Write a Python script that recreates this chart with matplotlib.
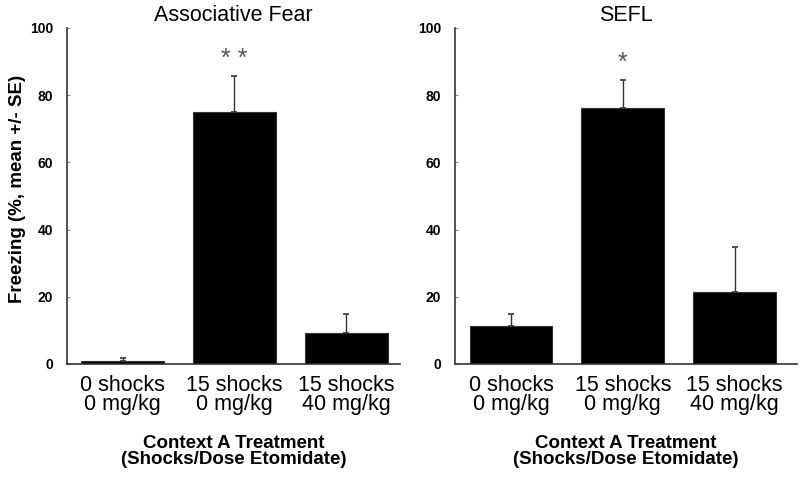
import numpy as np
import matplotlib.pyplot as plt

plt.rcParams['font.family'] = ['Liberation Sans', 'DejaVu Sans']

groups = ["0 shocks\n0 mg/kg", "15 shocks\n0 mg/kg", "15 shocks\n40 mg/kg"]
assoc_mean = [0.9, 75.0, 9.2]
assoc_se = [0.9, 10.8, 5.7]
sefl_mean = [11.3, 76.1, 21.3]
sefl_se = [3.7, 8.4, 13.5]
assoc_stars = ["", "* *", ""]
sefl_stars = ["", "*", ""]

fig = plt.figure(figsize=(8, 4.82), dpi=100)
ax1 = fig.add_axes([0.084, 0.245, 0.416, 0.697])
ax2 = fig.add_axes([0.569, 0.245, 0.4275, 0.697])

x = np.arange(len(groups))
for ax, mean, se, stars, title, xlim in [
        (ax1, assoc_mean, assoc_se, assoc_stars, "Associative Fear", (-0.496, 2.48)),
        (ax2, sefl_mean, sefl_se, sefl_stars, "SEFL", (-0.5, 2.56))]:
    ax.bar(x, mean, width=0.74, color='black', edgecolor='#333333', linewidth=0.8)
    ax.errorbar(x, mean, yerr=[np.zeros(len(se)), se], fmt='none',
                ecolor='#333333', elinewidth=1.0, capsize=2, capthick=1.2)
    for xi, m, s, st in zip(x, mean, se, stars):
        if st:
            ax.text(xi, m + s + 1.5, st, ha='center', va='bottom', fontsize=18,
                    color='#555555')
    ax.set_xlim(*xlim)
    ax.set_ylim(0, 100)
    ax.set_yticks([0, 20, 40, 60, 80, 100])
    ax.set_xticks(x)
    ax.set_xticklabels(groups, fontsize=15.5, linespacing=0.9)
    ax.tick_params(axis='x', length=0, pad=8)
    ax.tick_params(axis='y', direction='in', length=2, labelsize=10, pad=10,
                   color='#888888')
    for lab in ax.get_yticklabels():
        lab.set_fontweight('bold')
    for sp in ['top', 'right']:
        ax.spines[sp].set_visible(False)
    for sp in ['left', 'bottom']:
        ax.spines[sp].set_color('#333333')
        ax.spines[sp].set_linewidth(1.2)
    ax.set_title(title, fontsize=15.5, pad=5)
    ax.set_xlabel("Context A Treatment\n(Shocks/Dose Etomidate)", fontsize=13.5,
                  fontweight='bold', labelpad=14, linespacing=0.9)

ax1.set_ylabel("Freezing (%, mean +/- SE)", fontsize=13.5, fontweight='bold')
ax1.yaxis.set_label_coords(-0.125, 0.52)

fig.savefig("out.png", dpi=100)
